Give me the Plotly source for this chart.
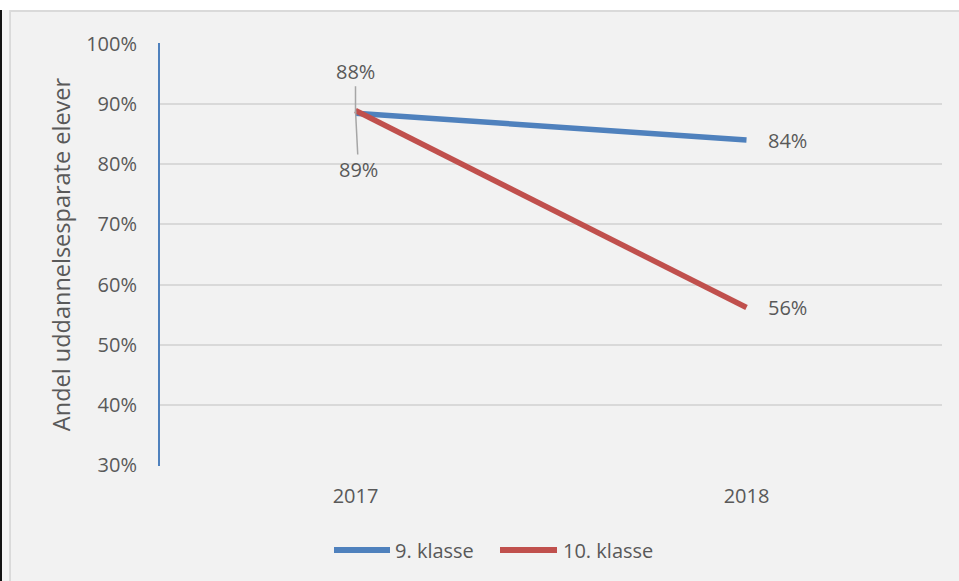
import plotly.graph_objects as go

years = ["2017", "2018"]
klasse9 = [88.45, 84.0]
klasse10 = [88.9, 56.2]
series_names = ["9. klasse", "10. klasse"]
y_ticks = [30, 40, 50, 60, 70, 80, 90, 100]
y_title = "Andel uddannelsesparate elever"

W, H = 959, 581
L, R, T, B = 160, 17, 43, 115
PW, PH = W - L - R, H - T - B

def px_x(px):
    return (px - L) / PW

def px_y(py):
    return (H - B - py) / PH

FONT = "Open Sans"
TXT = "#595959"
BLUE = "#4f81bd"
RED = "#c0504d"
FS = 20

def fmt(v):
    return f"{round(v + 1e-9):.0f}%"

fig = go.Figure()
series = [(series_names[0], klasse9, BLUE), (series_names[1], klasse10, RED)]
for name, vals, col in series:
    fig.add_trace(go.Scatter(
        x=years, y=vals, name=name, mode="lines",
        line=dict(color=col, width=5.5),
        showlegend=False, cliponaxis=False, hoverinfo="skip",
    ))

# 2018 labels to the right of the end points
for name, vals, col in series:
    fig.add_annotation(x=years.index(years[1]), y=vals[1], text=fmt(vals[1]), showarrow=False,
                       xanchor="left", yanchor="middle", xshift=19,
                       font=dict(family=FONT, size=FS, color=TXT))

# 2017 labels with leader lines
i0 = years.index(years[0])
fig.add_annotation(x=i0, y=klasse9[0], text=fmt(klasse9[0]), showarrow=True,
                   arrowhead=0, arrowwidth=1.5, arrowcolor="#a6a6a6", ax=0, ay=-42,
                   standoff=0, font=dict(family=FONT, size=FS, color=TXT))
fig.add_annotation(x=i0, y=klasse10[0], text=fmt(klasse10[0]), showarrow=True,
                   arrowhead=0, arrowwidth=1.5, arrowcolor="#a6a6a6", ax=3, ay=59,
                   standoff=0, font=dict(family=FONT, size=FS, color=TXT))

# manual legend
legend_items = [(series_names[0], BLUE, 334, 390, 393), (series_names[1], RED, 500, 557, 561)]
for name, col, lx0, lx1, tx in legend_items:
    fig.add_shape(type="line", xref="paper", yref="paper", x0=px_x(lx0), x1=px_x(lx1),
                  y0=px_y(550), y1=px_y(550), line=dict(color=col, width=6))
    fig.add_annotation(xref="paper", yref="paper", x=px_x(tx), y=px_y(550), text=name,
                       showarrow=False, xanchor="left", yanchor="middle",
                       font=dict(family=FONT, size=FS, color=TXT))

# frame: white strip at top, dark left edge, light border
fig.add_shape(type="rect", xref="paper", yref="paper", x0=px_x(0), x1=px_x(W),
              y0=px_y(10), y1=px_y(0), fillcolor="white", line=dict(width=0), layer="above")
fig.add_shape(type="rect", xref="paper", yref="paper", x0=px_x(0), x1=px_x(2),
              y0=px_y(H), y1=px_y(10), fillcolor="#111111", line=dict(width=0), layer="above")
fig.add_shape(type="line", xref="paper", yref="paper", x0=px_x(9), x1=px_x(W),
              y0=px_y(11), y1=px_y(11), line=dict(color="#dadada", width=2), layer="above")
fig.add_shape(type="line", xref="paper", yref="paper", x0=px_x(10), x1=px_x(10),
              y0=px_y(H), y1=px_y(11), line=dict(color="#dadada", width=2), layer="above")

fig.update_layout(
    width=W, height=H,
    margin=dict(l=L, r=R, t=T, b=B),
    paper_bgcolor="#f2f2f2", plot_bgcolor="#f2f2f2",
    font=dict(family=FONT, size=FS, color=TXT),
    showlegend=False,
    xaxis=dict(type="category", range=[-0.5, 1.5], showgrid=False, showline=False,
               zeroline=False, ticks="", tickfont=dict(family=FONT, size=FS, color=TXT),
               ticklabelstandoff=16, fixedrange=True),
    yaxis=dict(range=[29.9, 100.1], tickvals=y_ticks, ticktext=[f"{v}%" for v in y_ticks],
               showgrid=True, gridcolor="#d9d9d9", gridwidth=2,
               showline=True, linecolor=BLUE, linewidth=2, zeroline=False, ticks="",
               tickfont=dict(family=FONT, size=FS, color=TXT), ticklabelstandoff=17,
               title=dict(text=y_title, font=dict(family=FONT, size=23.5, color=TXT), standoff=9),
               fixedrange=True),
)

fig.write_html("out.html", config={"displayModeBar": False},
               post_script="document.body.style.margin='0';document.body.style.overflow='hidden';")
